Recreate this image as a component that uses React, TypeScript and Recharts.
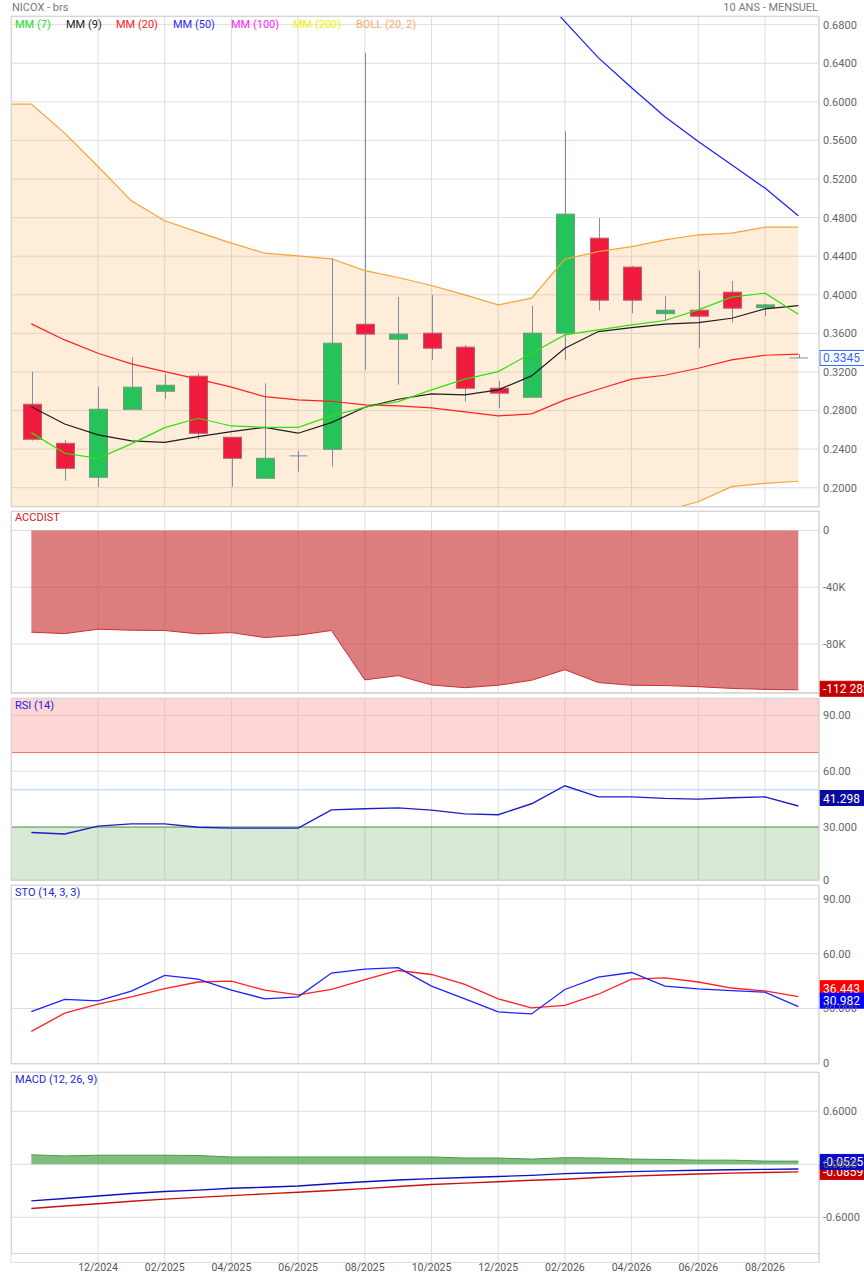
import React from "react";
import {
  Area,
  Bar,
  CartesianGrid,
  ComposedChart,
  Line,
  ReferenceArea,
  ReferenceLine,
  XAxis,
  YAxis,
} from "recharts";

// monthly periods, first one (09/2024) only feeds the bollinger band edge
const months = [
  "09/2024", "10/2024", "11/2024", "12/2024", "01/2025", "02/2025", "03/2025",
  "04/2025", "05/2025", "06/2025", "07/2025", "08/2025", "09/2025", "10/2025",
  "11/2025", "12/2025", "01/2026", "02/2026", "03/2026", "04/2026", "05/2026",
  "06/2026", "07/2026", "08/2026", "09/2026",
];

const opens = [null, 0.2865, 0.246, 0.2108, 0.2813, 0.3, 0.3156, 0.2523, 0.2098, 0.233, 0.2398, 0.3695, 0.354, 0.3602, 0.3457, 0.3031, 0.2938, 0.3602, 0.4587, 0.4287, 0.3805, 0.384, 0.4027, 0.3867, 0.3345];
const highs = [null, 0.3203, 0.2495, 0.3042, 0.3353, 0.318, 0.3187, 0.2525, 0.3083, 0.2381, 0.4383, 0.651, 0.3978, 0.3999, 0.348, 0.3107, 0.3885, 0.5693, 0.4795, 0.43, 0.3989, 0.4251, 0.4144, 0.3905, 0.3384];
const lows = [null, 0.2488, 0.2073, 0.2011, 0.281, 0.2923, 0.2502, 0.2011, 0.2095, 0.2166, 0.2218, 0.3221, 0.3069, 0.3325, 0.2892, 0.2824, 0.2938, 0.3325, 0.3836, 0.3809, 0.3733, 0.3446, 0.3712, 0.3781, 0.3345];
const closes = [null, 0.2502, 0.2201, 0.2813, 0.3042, 0.3062, 0.2564, 0.2305, 0.2305, 0.233, 0.3498, 0.3592, 0.3592, 0.3446, 0.3031, 0.298, 0.3602, 0.4836, 0.3944, 0.3944, 0.384, 0.3778, 0.3861, 0.3895, 0.3345];

const mm7 = [null, 0.2571, 0.2357, 0.2305, 0.2454, 0.2623, 0.272, 0.264, 0.2626, 0.2626, 0.2744, 0.2834, 0.2892, 0.3014, 0.3125, 0.3204, 0.3394, 0.3584, 0.3636, 0.3688, 0.3733, 0.3844, 0.3975, 0.4017, 0.3799];
const mm9 = [null, 0.284, 0.2661, 0.2547, 0.2485, 0.2471, 0.2529, 0.2581, 0.2626, 0.2565, 0.2675, 0.2834, 0.2917, 0.2972, 0.2962, 0.3014, 0.3159, 0.3446, 0.3619, 0.366, 0.3695, 0.3712, 0.3757, 0.3854, 0.3888];
const mm20 = [null, 0.3698, 0.3532, 0.3394, 0.3283, 0.3204, 0.3125, 0.3042, 0.2944, 0.291, 0.2896, 0.2858, 0.2848, 0.2827, 0.2786, 0.2745, 0.2765, 0.291, 0.3021, 0.3125, 0.3166, 0.3238, 0.3325, 0.3373, 0.3384];
const mm50 = [null, null, null, null, null, null, null, null, null, null, null, null, null, null, null, null, 0.722, 0.6831, 0.6458, 0.6146, 0.5846, 0.5589, 0.5348, 0.5106, 0.4819];
const bollUpper = [0.5977, 0.5977, 0.5676, 0.533, 0.4974, 0.4767, 0.4649, 0.4535, 0.4431, 0.4404, 0.4373, 0.4251, 0.4179, 0.4096, 0.3999, 0.3895, 0.3965, 0.437, 0.4448, 0.45, 0.457, 0.4622, 0.4639, 0.4701, 0.4701];
const bollLower = [0.142, 0.1419, 0.1388, 0.1458, 0.1592, 0.1641, 0.1601, 0.1549, 0.1457, 0.1416, 0.1419, 0.1465, 0.1517, 0.1538, 0.1573, 0.1595, 0.1565, 0.145, 0.1594, 0.175, 0.1762, 0.1854, 0.2011, 0.2045, 0.2067];

const accdist = [null, -71700, -72700, -69600, -70300, -70500, -72900, -72000, -75500, -73800, -70500, -105300, -102300, -108900, -110800, -109100, -105600, -98100, -107200, -109100, -109300, -110100, -111300, -112000, -112282];
const rsi = [null, 27.1, 26.3, 30.5, 31.7, 31.7, 29.9, 29.4, 29.4, 29.4, 39.2, 39.8, 40.3, 39.1, 37.1, 36.6, 42.5, 52.2, 46.2, 46.2, 45.4, 45.0, 45.7, 46.2, 41.3];
const stoK = [null, 28.3, 35.0, 34.2, 39.5, 48.1, 46.1, 40.0, 35.3, 36.4, 49.4, 51.5, 52.4, 42.2, 35.3, 28.1, 27.0, 40.4, 47.2, 49.7, 42.2, 40.7, 39.8, 38.9, 30.98];
const stoD = [null, 17.5, 27.4, 32.4, 36.4, 40.9, 44.5, 45.0, 40.0, 37.5, 40.4, 45.8, 50.8, 48.6, 43.2, 35.3, 30.3, 31.7, 37.8, 46.1, 46.7, 44.5, 41.2, 39.6, 36.44];
const macd = [null, -0.414, -0.387, -0.359, -0.331, -0.308, -0.292, -0.272, -0.26, -0.245, -0.221, -0.197, -0.178, -0.162, -0.15, -0.138, -0.126, -0.106, -0.095, -0.083, -0.075, -0.068, -0.062, -0.057, -0.0525];
const signal = [null, -0.501, -0.473, -0.446, -0.418, -0.394, -0.375, -0.355, -0.335, -0.316, -0.296, -0.276, -0.252, -0.228, -0.213, -0.197, -0.181, -0.169, -0.15, -0.134, -0.122, -0.11, -0.1, -0.093, -0.0859];
const histogram = [null, 0.107, 0.095, 0.103, 0.103, 0.103, 0.099, 0.083, 0.083, 0.083, 0.083, 0.083, 0.083, 0.083, 0.071, 0.071, 0.059, 0.075, 0.071, 0.059, 0.055, 0.047, 0.047, 0.036, 0.036];

const dateTicks = [2, 4, 6, 8, 10, 12, 14, 16, 18, 20, 22];

const rows = months.map((month, k) => ({
  x: k - 1,
  month,
  open: opens[k],
  high: highs[k],
  low: lows[k],
  close: closes[k],
  range: lows[k] == null ? null : [lows[k], highs[k]],
  boll: [bollLower[k], bollUpper[k]],
  bollUpper: bollUpper[k],
  bollLower: bollLower[k],
  mm7: mm7[k],
  mm9: mm9[k],
  mm20: mm20[k],
  mm50: mm50[k],
  acc: accdist[k],
  rsi: rsi[k],
  stoK: stoK[k],
  stoD: stoD[k],
  macd: macd[k],
  signal: signal[k],
  hist: histogram[k],
}));

const FONT = "Roboto, 'DejaVu Sans', sans-serif";
const W = 864;
const PAD = 8;
const GRID = "#dedede";
const WICK = "#7f8ea4";

const legend = [
  { label: "MM (7)", color: "#18e018", left: 15 },
  { label: "MM (9)", color: "#222222", left: 66 },
  { label: "MM (20)", color: "#ff2020", left: 116 },
  { label: "MM (50)", color: "#2a2aff", left: 173 },
  { label: "MM (100)", color: "#ff22ff", left: 231 },
  { label: "MM (200)", color: "#f2f200", left: 293 },
  { label: "BOLL (20, 2)", color: "#f6ad6a", left: 356 },
];

function Candle(props: any) {
  const { x, y, width, height, payload } = props;
  if (!payload || payload.open == null) return null;
  const { open, close, high, low } = payload;
  const span = high - low || 1;
  const toY = (v: number) => y + ((high - v) / span) * height;
  const cx = Math.round(x + width / 2) + 0.5;
  const top = toY(Math.max(open, close));
  const bottom = toY(Math.min(open, close));
  if (open === close) {
    return (
      <g>
        <line x1={cx} x2={cx} y1={y} y2={y + height} stroke={WICK} />
        <line x1={x} x2={x + width} y1={top} y2={top} stroke={WICK} />
      </g>
    );
  }
  const up = close > open;
  return (
    <g>
      <line x1={cx} x2={cx} y1={y} y2={y + height} stroke={WICK} />
      <rect
        x={Math.round(x) + 0.5}
        y={top}
        width={width}
        height={Math.max(bottom - top, 1)}
        fill={up ? "#26c25a" : "#f01a3c"}
        stroke={up ? "#6c9a7c" : "#b86070"}
      />
    </g>
  );
}

function Tag(props: any) {
  const { viewBox, text, bg, border, color, dy = 0 } = props;
  if (!viewBox) return null;
  const left = viewBox.x + viewBox.width + 1;
  const cy = viewBox.y + dy;
  return (
    <g>
      <rect x={left} y={cy - 7.5} width={46} height={15} fill={bg} stroke={border} />
      <text
        x={left + 3}
        y={cy + 0.5}
        dominantBaseline="central"
        fill={color}
        fontSize={12}
        fontFamily={FONT}
      >
        {text}
      </text>
    </g>
  );
}

type PanelProps = {
  top: number;
  bottom: number;
  domain: [number, number];
  ticks: number[];
  format: (v: number) => string;
  showDates?: boolean;
  children: React.ReactNode;
};

function Panel({ top, bottom, domain, ticks, format, showDates, children }: PanelProps) {
  const axisH = showDates ? 20 : 0;
  const height = bottom - top + PAD * 2 + axisH;
  return (
    <div style={{ position: "absolute", left: 0, top: top - PAD, width: W, height }}>
      <ComposedChart
        width={W}
        height={height}
        data={rows}
        margin={{ top: PAD, right: 0, bottom: showDates ? 0 : PAD, left: 11 }}
      >
        <CartesianGrid stroke={GRID} />
        <XAxis
          dataKey="x"
          type="number"
          domain={[-0.61, 23.62]}
          allowDataOverflow
          ticks={dateTicks}
          hide={!showDates}
          height={axisH}
          axisLine={false}
          tickLine={false}
          tickSize={0}
          tickMargin={1}
          tickFormatter={(v: number) => months[v + 1]}
          tick={{ fill: "#555", fontSize: 10.5, fontFamily: FONT }}
        />
        <YAxis
          orientation="right"
          width={45}
          type="number"
          domain={domain}
          allowDataOverflow
          ticks={ticks}
          tickFormatter={format}
          axisLine={{ stroke: "#cfcfcf" }}
          tickLine={false}
          tickSize={0}
          tickMargin={4}
          tick={{ fill: "#666", fontSize: 11, fontFamily: FONT, textAnchor: "start" }}
        />
        {children}
      </ComposedChart>
      <div
        style={{
          position: "absolute",
          left: 11,
          top: PAD,
          width: 808,
          height: bottom - top,
          border: "1px solid #d6d6d6",
          borderRight: "none",
          boxSizing: "border-box",
          pointerEvents: "none",
        }}
      />
    </div>
  );
}

const textStyle = (left: number, centerY: number, color: string): React.CSSProperties => ({
  position: "absolute",
  left,
  top: centerY - 7,
  lineHeight: "14px",
  fontSize: 11,
  fontFamily: FONT,
  color,
  whiteSpace: "nowrap",
});

export default function App() {
  return (
    <div
      style={{
        position: "absolute",
        left: 0,
        top: 0,
        width: W,
        height: 1275,
        background: "#fff",
        overflow: "hidden",
        fontFamily: FONT,
      }}
    >
      <Panel
        top={16}
        bottom={507}
        domain={[0.18, 0.689]}
        ticks={[0.2, 0.24, 0.28, 0.32, 0.36, 0.4, 0.44, 0.48, 0.52, 0.56, 0.6, 0.64, 0.68]}
        format={(v) => v.toFixed(4)}
      >
        <Bar dataKey="range" barSize={18} shape={<Candle />} isAnimationActive={false} />
        <Area
          dataKey="boll"
          stroke="none"
          fill="#f8a73c"
          fillOpacity={0.2}
          isAnimationActive={false}
        />
        <Line dataKey="bollUpper" stroke="#f5a43a" strokeWidth={1.2} dot={false} isAnimationActive={false} />
        <Line dataKey="bollLower" stroke="#f5a43a" strokeWidth={1.2} dot={false} isAnimationActive={false} />
        <Line dataKey="mm20" stroke="#ff2020" strokeWidth={1.2} dot={false} isAnimationActive={false} />
        <Line dataKey="mm9" stroke="#1e1e1e" strokeWidth={1.2} dot={false} isAnimationActive={false} />
        <Line dataKey="mm7" stroke="#2fe010" strokeWidth={1.2} dot={false} isAnimationActive={false} />
        <Line dataKey="mm50" stroke="#1a1aff" strokeWidth={1.2} dot={false} isAnimationActive={false} />
        <ReferenceLine
          y={0.3345}
          stroke="none"
          label={<Tag text="0.3345" bg="#ffffff" border="#3366ff" color="#3366ff" />}
        />
      </Panel>

      <Panel
        top={510.5}
        bottom={693}
        domain={[-114900, 13700]}
        ticks={[0, -40000, -80000]}
        format={(v) => (v === 0 ? "0" : `${v / 1000}K`)}
      >
        <Area
          dataKey="acc"
          baseValue={0}
          stroke="#cc3030"
          strokeWidth={1}
          fill="#c62828"
          fillOpacity={0.6}
          isAnimationActive={false}
        />
        <ReferenceLine
          y={-112282}
          stroke="none"
          label={<Tag text="-112 282" bg="#c40000" border="#c40000" color="#ffffff" dy={-1} />}
        />
      </Panel>

      <Panel
        top={697.5}
        bottom={880}
        domain={[1.3, 99.3]}
        ticks={[1.3, 30, 60, 90]}
        format={(v) => (v < 5 ? "0" : v === 30 ? "30.000" : v.toFixed(2))}
      >
        <ReferenceArea y1={70} y2={99.3} fill="#ff9999" fillOpacity={0.4} stroke="none" />
        <ReferenceArea y1={1.3} y2={30} fill="#3c9632" fillOpacity={0.2} stroke="none" />
        <ReferenceLine y={70} stroke="#f07070" />
        <ReferenceLine y={50} stroke="#a8d2ff" />
        <ReferenceLine y={30} stroke="#4f9a4f" />
        <Line dataKey="rsi" stroke="#1c1cc8" strokeWidth={1.4} dot={false} isAnimationActive={false} />
        <ReferenceLine
          y={41.298}
          stroke="none"
          label={<Tag text="41.298" bg="#0a0a9e" border="#0a0a9e" color="#ffffff" dy={-8} />}
        />
      </Panel>

      <Panel
        top={885}
        bottom={1064}
        domain={[-0.4, 97.6]}
        ticks={[0, 30, 60, 90]}
        format={(v) => (v === 0 ? "0" : v === 30 ? "30.000" : v.toFixed(2))}
      >
        <Line dataKey="stoD" stroke="#ff2020" strokeWidth={1.3} dot={false} isAnimationActive={false} />
        <Line dataKey="stoK" stroke="#2020ff" strokeWidth={1.3} dot={false} isAnimationActive={false} />
        <ReferenceLine
          y={36.443}
          stroke="none"
          label={<Tag text="36.443" bg="#ff0000" border="#ff0000" color="#ffffff" dy={-8.5} />}
        />
        <ReferenceLine
          y={30.982}
          stroke="none"
          label={<Tag text="30.982" bg="#0000ff" border="#0000ff" color="#ffffff" dy={-6} />}
        />
      </Panel>

      <Panel
        top={1071.5}
        bottom={1254}
        domain={[-1.112, 1.045]}
        ticks={[-0.6, 0, 0.6]}
        format={(v) => v.toFixed(4)}
        showDates
      >
        <Area
          dataKey="hist"
          baseValue={0}
          stroke="#4a9a4a"
          strokeWidth={1}
          fill="#3a9a3a"
          fillOpacity={0.65}
          isAnimationActive={false}
        />
        <Line dataKey="signal" stroke="#cc1010" strokeWidth={1.4} dot={false} isAnimationActive={false} />
        <Line dataKey="macd" stroke="#1010c0" strokeWidth={1.4} dot={false} isAnimationActive={false} />
        <ReferenceLine
          y={-0.0859}
          stroke="none"
          label={<Tag text="-0.0859" bg="#c80000" border="#c80000" color="#ffffff" dy={0} />}
        />
        <ReferenceLine
          y={-0.0525}
          stroke="none"
          label={<Tag text="-0.0525" bg="#0a0ac8" border="#0a0ac8" color="#ffffff" dy={-7} />}
        />
      </Panel>

      <div style={textStyle(12, 8, "#7a7a7a")}>NICOX - brs</div>
      <div style={{ ...textStyle(0, 8, "#7a7a7a"), left: "auto", right: 46 }}>10 ANS - MENSUEL</div>
      {legend.map((item) => (
        <div key={item.label} style={textStyle(item.left, 25, item.color)}>
          {item.label}
        </div>
      ))}
      <div style={textStyle(15, 518, "#d42020")}>ACCDIST</div>
      <div style={textStyle(15, 706, "#2222dd")}>RSI (14)</div>
      <div style={textStyle(15, 893, "#2222dd")}>STO (14, 3, 3)</div>
      <div style={textStyle(15, 1080, "#2222dd")}>MACD (12, 26, 9)</div>
    </div>
  );
}
